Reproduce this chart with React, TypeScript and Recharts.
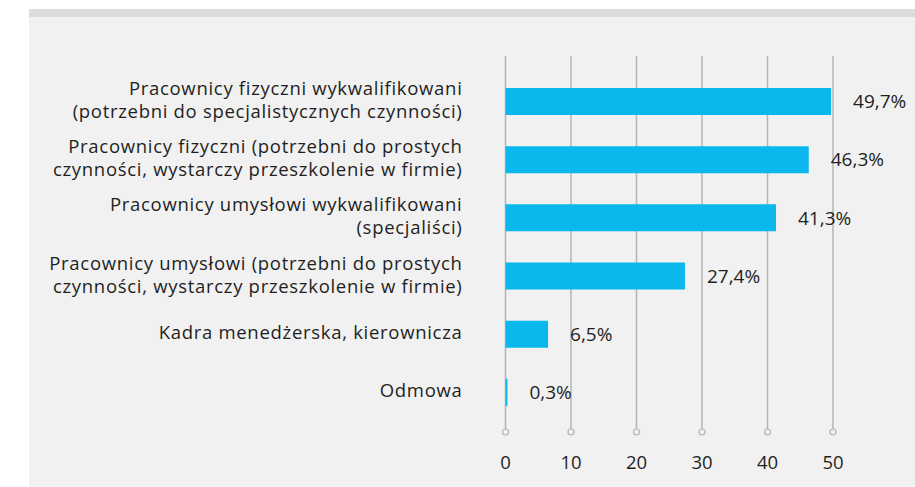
import React from 'react';
import { BarChart, Bar, XAxis, YAxis, CartesianGrid, LabelList } from 'recharts';

// categories (line breaks as in the source), values in %
const categories = [
    'Pracownicy fizyczni wykwalifikowani\n(potrzebni do specjalistycznych czynności)',
    'Pracownicy fizyczni (potrzebni do prostych\nczynności, wystarczy przeszkolenie w firmie)',
    'Pracownicy umysłowi wykwalifikowani\n(specjaliści)',
    'Pracownicy umysłowi (potrzebni do prostych\nczynności, wystarczy przeszkolenie w firmie)',
    'Kadra menedżerska, kierownicza',
    'Odmowa',
];
const values = [49.7, 46.3, 41.3, 27.4, 6.5, 0.3];
const xTicks = [0, 10, 20, 30, 40, 50];

const data = categories.map((name, i) => ({ name, value: values[i] }));

const FONT = '"Open Sans", sans-serif';
const TEXT = '#1f1f1f';
const GRID = '#b4b4b4';

const CategoryTick = (props: any) => {
    const { x, y, payload } = props;
    const lines: string[] = String(payload.value).split('\n');
    const lh = 23;
    const start = -((lines.length - 1) * lh) / 2;
    return (
        <text
            x={x - 43}
            y={y}
            textAnchor="end"
            fontFamily={FONT}
            fontSize={18.5}
            letterSpacing={0.7}
            fill={TEXT}
        >
            {lines.map((l, i) => (
                <tspan key={i} x={x - 43} dy={i === 0 ? start + 5.5 : lh}>
                    {l}
                </tspan>
            ))}
        </text>
    );
};

const BottomTick = (props: any) => {
    const { x, y, payload } = props;
    return (
        <g>
            <circle cx={x} cy={y} r={3} fill="#f1f1f1" stroke={GRID} strokeWidth={1.2} />
            <text x={x} y={y + 37} textAnchor="middle" fontFamily={FONT} fontSize={18.5} fill={TEXT}>
                {payload.value}
            </text>
        </g>
    );
};

const TopTick = (props: any) => {
    const { x, y } = props;
    return <line x1={x - 3} x2={x + 3} y1={y} y2={y} stroke={GRID} strokeWidth={1.5} />;
};

const fmt = (v: any) => `${String(v).replace('.', ',')}%`;

export default function App() {
    return (
        <div style={{ position: 'absolute', left: 0, top: 0, width: 915, height: 487, background: '#fff' }}>
            <div style={{ position: 'absolute', left: 29, top: 9, width: 886, height: 478, background: '#f1f1f1' }} />
            <div style={{ position: 'absolute', left: 29, top: 9, width: 886, height: 8, background: '#dcdcdc' }} />
            <div style={{ position: 'absolute', left: 0, top: 0 }}>
                <BarChart
                    width={915}
                    height={487}
                    data={data}
                    layout="vertical"
                    margin={{ top: 56, right: 82, left: 0, bottom: 15 }}
                >
                    <CartesianGrid horizontal={false} vertical stroke={GRID} strokeWidth={1.5} />
                    <XAxis
                        type="number"
                        domain={[0, 50]}
                        ticks={xTicks}
                        axisLine={false}
                        tickLine={false}
                        tickSize={0}
                        tickMargin={0}
                        height={40}
                        tick={<BottomTick />}
                        interval={0}
                    />
                    <XAxis
                        xAxisId="top"
                        orientation="top"
                        type="number"
                        domain={[0, 50]}
                        ticks={xTicks}
                        axisLine={false}
                        tickLine={false}
                        tickSize={0}
                        tickMargin={0}
                        height={0}
                        tick={<TopTick />}
                        interval={0}
                    />
                    <YAxis
                        type="category"
                        dataKey="name"
                        width={505.5}
                        axisLine={false}
                        tickLine={false}
                        tickSize={0}
                        tickMargin={0}
                        padding={{ top: 16, bottom: 11 }}
                        tick={<CategoryTick />}
                        interval={0}
                    />
                    <Bar dataKey="value" fill="#0bb8ee" barSize={27} isAnimationActive={false}>
                        <LabelList
                            dataKey="value"
                            position="right"
                            offset={22}
                            formatter={fmt}
                            style={{ fontFamily: FONT, fontSize: 19, fill: TEXT }}
                        />
                    </Bar>
                </BarChart>
            </div>
        </div>
    );
}
